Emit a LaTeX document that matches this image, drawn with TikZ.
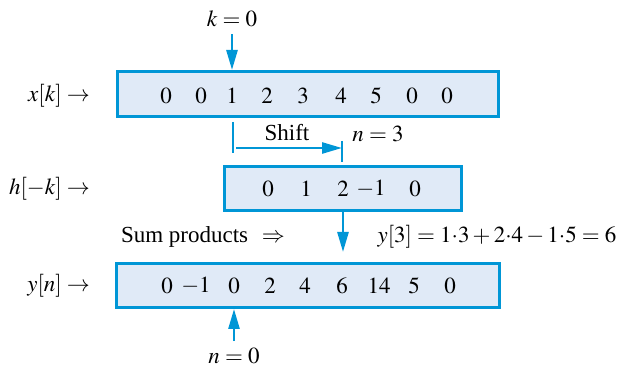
\documentclass[tikz,border=0pt]{standalone}
\usepackage{amsmath}
\usepackage{mathptmx}
\usepackage{fontspec}
\setmainfont{Liberation Serif}
\usetikzlibrary{arrows.meta, positioning}
\definecolor{convblue}{RGB}{0,150,214}
\definecolor{convfill}{RGB}{224,234,247}
\tikzset{
  seqbox/.style={draw=convblue, fill=convfill, line width=1.5pt, inner sep=0pt},
  bluearrow/.style={draw=convblue, line width=1.3pt, -{Triangle[length=10pt,width=5.5pt]}},
  bluetick/.style={draw=convblue, line width=1.2pt},
}

\begin{document}
\begin{tikzpicture}[x=0.5pt, y=-0.5pt, every node/.style={font=\fontsize{11.5}{13}\selectfont}]
\useasboundingbox (0,0) rectangle (622,367);

% the three sequences
\node[seqbox, minimum width=190.5pt, minimum height=22.5pt] (xbox) at (308,94) {};
\node[seqbox, minimum width=118.5pt, minimum height=22pt] (hbox) at (343,188.5) {};
\node[seqbox, minimum width=191.5pt, minimum height=22pt] (ybox) at (308,285.5) {};

\foreach \v/\px [count=\i] in {0/166,0/201,1/232,2/267,3/303,4/341,5/376,0/412,0/447}
  \node (x\i) at (\px,96) {$\v$};
\foreach \v/\px [count=\i] in {0/268,1/306,2/343,-1/371,0/415}
  \node (h\i) at (\px,189) {$\v$};
\foreach \v/\px [count=\i] in {0/167,-1/196,0/234,2/270,4/305,6/342,14/379,5/414,0/450}
  \node (y\i) at (\px,286) {$\v$};

\node[anchor=east] (xlab) at (97,96) {$x[k]\rightarrow$};
\node[anchor=east] (hlab) at (97,189) {$h[-k]\rightarrow$};
\node[anchor=east] (ylab) at (97,286) {$y[n]\rightarrow$};

% origin markers
\node (kzero) at (232,19) {$k=0$};
\draw[bluearrow] (kzero.south) -- (kzero.south |- xbox.north);
\node (nzero) at (234,356) {$n=0$};
\draw[bluearrow] (nzero.north) -- (nzero.north |- ybox.south);

% shift by n
\coordinate (shiftstart) at (236,148);
\coordinate (shiftend) at (342,148);
\draw[bluetick] (233,122) -- (233,153);
\draw[bluetick] (342,141) -- (342,162);
\draw[bluearrow] (shiftstart) -- (shiftend);
\node (shift) at (287,133) {Shift};
\node (nthree) at (378,134) {$n=3$};

% sum of products
\coordinate (sumtip) at (343,252);
\draw[bluearrow] (h3 |- hbox.south) -- (sumtip);
\node (sumlab) at (203,237) {Sum products\hspace{0.6em}$\Rightarrow$};
\node (ythree) at (497,237) {$y[3]=1{\cdot}3+2{\cdot}4-1{\cdot}5=6$};
\end{tikzpicture}
\end{document}
